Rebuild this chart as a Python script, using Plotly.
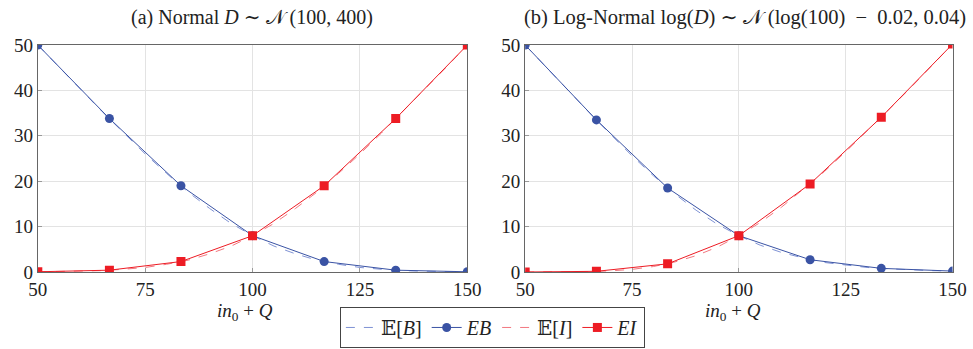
import plotly.graph_objects as go

# marker positions (in0 + Q)
x_marks = [50, 66.67, 83.33, 100, 116.67, 133.33, 150]
# smooth expected-value curves positions
x_curve = [50, 55, 60, 65, 70, 75, 80, 85, 90, 95, 100, 105, 110, 115, 120, 125, 130, 135, 140, 145, 150]

# (a) Normal
eb_a = [50.0, 33.8, 19.0, 8.0, 2.3, 0.4, 0.05]
ei_a = [0.05, 0.4, 2.3, 8.0, 19.0, 33.8, 50.0]
exp_b_a = [50.0, 45.0, 40.2, 35.3, 30.6, 26.0, 21.7, 17.6, 14.0, 10.7, 8.0, 5.7, 4.0, 2.6, 1.7, 1.0, 0.6, 0.3, 0.17, 0.08, 0.04]
exp_i_a = [0.04, 0.08, 0.17, 0.3, 0.6, 1.0, 1.7, 2.6, 4.0, 5.7, 8.0, 10.7, 14.0, 17.6, 21.7, 26.0, 30.6, 35.3, 40.2, 45.0, 50.0]

# (b) Log-Normal
eb_b = [50.0, 33.5, 18.5, 8.0, 2.7, 0.8, 0.2]
ei_b = [0.0, 0.15, 1.8, 8.0, 19.4, 34.1, 50.2]
exp_b_b = [50.0, 45.0, 40.0, 35.1, 30.3, 25.6, 21.2, 17.2, 13.6, 10.5, 8.0, 5.9, 4.3, 3.1, 2.1, 1.5, 1.0, 0.7, 0.44, 0.3, 0.2]
exp_i_b = [0.0, 0.0, 0.03, 0.09, 0.25, 0.58, 1.2, 2.2, 3.6, 5.5, 8.0, 10.9, 14.3, 18.1, 22.1, 26.5, 31.0, 35.7, 40.4, 45.3, 50.2]

x_ticks = [50, 75, 100, 125, 150]
y_ticks = [0, 10, 20, 30, 40, 50]

BLUE = "#3a53a4"
BLUE_L = "#7f92d4"
RED = "#ed1c24"
RED_L = "#f27880"
FONT = "Times New Roman, Liberation Serif, DejaVu Serif, serif"

W, H = 988, 349

fig = go.Figure()

for i, (xa, ya, eb, ei, exb, exi) in enumerate([
        ("x", "y", eb_a, ei_a, exp_b_a, exp_i_a),
        ("x2", "y2", eb_b, ei_b, exp_b_b, exp_i_b)]):
    show = i == 0
    fig.add_trace(go.Scatter(x=x_curve, y=exb, mode="lines", name="𝔼[<i>B</i>]",
                             line=dict(color=BLUE_L, width=1, dash="dash"),
                             xaxis=xa, yaxis=ya, showlegend=show))
    fig.add_trace(go.Scatter(x=x_marks, y=eb, mode="lines+markers", name="<i>EB</i>",
                             line=dict(color=BLUE, width=1),
                             marker=dict(symbol="circle", size=9, color=BLUE),
                             xaxis=xa, yaxis=ya, showlegend=show))
    fig.add_trace(go.Scatter(x=x_curve, y=exi, mode="lines", name="𝔼[<i>I</i>]",
                             line=dict(color=RED_L, width=1, dash="dash"),
                             xaxis=xa, yaxis=ya, showlegend=show))
    fig.add_trace(go.Scatter(x=x_marks, y=ei, mode="lines+markers", name="<i>EI</i>",
                             line=dict(color=RED, width=1),
                             marker=dict(symbol="square", size=9, color=RED),
                             xaxis=xa, yaxis=ya, showlegend=show))

axis_common = dict(showgrid=True, gridcolor="#e3e3e3", gridwidth=1,
                   showline=True, linecolor="#666666", linewidth=1, mirror=True,
                   ticks="inside", ticklen=4, tickcolor="#999999",
                   zeroline=False, tickfont=dict(family=FONT, size=19, color="#222222"))

fig.update_layout(
    width=W, height=H,
    margin=dict(l=0, r=0, t=45, b=77),
    paper_bgcolor="white", plot_bgcolor="white",
    font=dict(family=FONT, size=19, color="#222222"),
    xaxis=dict(domain=[28.5/W, 468.7/W], range=[50, 150], tickvals=x_ticks, anchor="y", **axis_common),
    yaxis=dict(domain=[0, 1], range=[0, 50], tickvals=y_ticks, anchor="x", **axis_common),
    xaxis2=dict(domain=[528/W, 966/W], range=[50, 150], tickvals=x_ticks, anchor="y2", **axis_common),
    yaxis2=dict(domain=[0, 1], range=[0, 50], tickvals=y_ticks, anchor="x2", **axis_common),
    legend=dict(orientation="h", x=494.4/W, xanchor="center", y=-0.154, yanchor="top",
                bordercolor="#444444", borderwidth=1, bgcolor="white",
                font=dict(family=FONT, size=20), itemwidth=30, tracegroupgap=0),
    showlegend=True,
    annotations=[
        dict(text="(a) Normal <i>D</i> ∼ 𝒩 (100, 400)", xref="paper", yref="paper",
             x=248/W, y=1.119, xanchor="center", yanchor="middle",
             showarrow=False, font=dict(family=FONT, size=20)),
        dict(text="(b) Log-Normal log(<i>D</i>) ∼ 𝒩 (log(100)\u2002−\u20020.02, 0.04)",
             xref="paper", yref="paper",
             x=753/W, y=1.119, xanchor="center", yanchor="middle",
             showarrow=False, font=dict(family=FONT, size=20.5)),
        dict(text="<i>in</i><sub>0</sub> + <i>Q</i>", xref="paper", yref="paper",
             x=241/W, y=-0.176, xanchor="center", yanchor="middle",
             showarrow=False, font=dict(family=FONT, size=19)),
        dict(text="<i>in</i><sub>0</sub> + <i>Q</i>", xref="paper", yref="paper",
             x=741.5/W, y=-0.176, xanchor="center", yanchor="middle",
             showarrow=False, font=dict(family=FONT, size=19)),
    ],
)

fig.write_html("out.html", config={"displayModeBar": False},
               post_script="document.body.style.margin='0';document.body.style.overflow='hidden';")
